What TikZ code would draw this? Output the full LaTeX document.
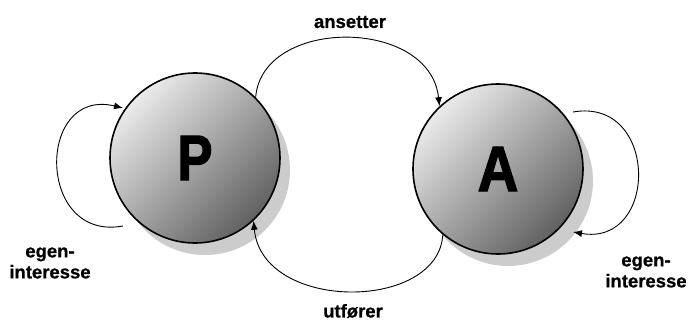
\documentclass[tikz,border=0pt]{standalone}
\usepackage{fontspec}
\setmainfont{Liberation Sans}
\newfontfamily\heavyfont[FakeBold=2.2]{Liberation Sans Bold}
\newfontfamily\labelfont[FakeBold=0.7]{Liberation Sans Bold}
\usetikzlibrary{arrows.meta}
\begin{document}
\begin{tikzpicture}[x=1pt,y=1pt,
  agent/.style={circle, minimum size=170pt, inner sep=0pt, draw=black, line width=1.6pt,
    shading=axis, top color=black!8, bottom color=black!62, shading angle=45},
  agentshadow/.style={circle, minimum size=170pt, inner sep=0pt, fill=black!20},
  letter/.style={font=\heavyfont\fontsize{64}{64}\selectfont},
  lbl/.style={font=\labelfont\fontsize{18.5}{21}\selectfont, align=center},
  link/.style={line width=0.9pt, -{Latex[length=9pt,width=7pt]}}]
\useasboundingbox (0,0) rectangle (689,322);

% soft shadows behind the two circles
\node[agentshadow] (Ps) at (205,152) {};
\node[agentshadow] (As) at (508,141) {};

% principal and agent
\node[agent, letter] (P) at (195,164) {\scalebox{0.82}[1]{P}};
\node[agent, letter] (A) at (498,153) {\scalebox{0.88}[1]{A}};

% free ends of the self-interest loops
\coordinate (pl1) at (123,96);
\coordinate (pl2) at (123,214);
\coordinate (al1) at (573,210);
\coordinate (al2) at (573,90);

% hiring and performing
\draw[link] (P.45) .. controls (262,305) and (430,305) .. (A.133);
\draw[link] (A.230) .. controls (438,10) and (262,10) .. (P.-47);

% self-interest loops
\draw[link] (pl1) .. controls (36,80) and (36,235) .. (pl2);
\draw[link] (al1) .. controls (659,225) and (659,75) .. (al2);

% labels
\node[lbl] (l1) at (350,300) {ansetter};
\node[lbl] (l2) at (353,11) {utfører};
\node[lbl] (l3) at (50,59) {egen-\\interesse};
\node[lbl] (l4) at (646,50) {egen-\\interesse};
\end{tikzpicture}
\end{document}
